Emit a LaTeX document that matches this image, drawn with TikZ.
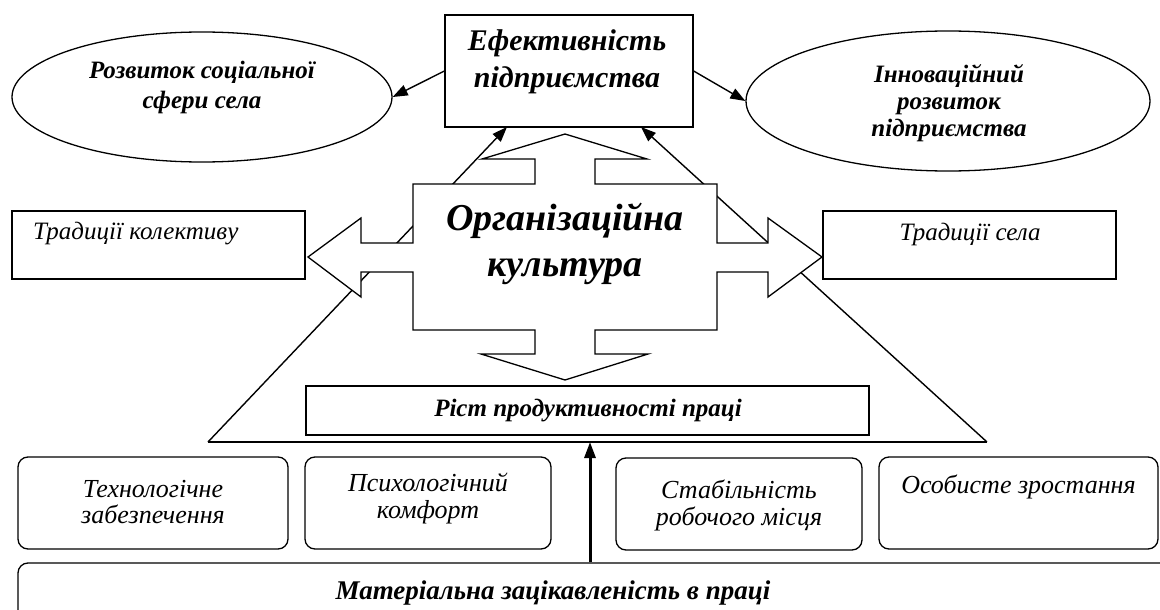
\documentclass[tikz,border=0pt]{standalone}
\usepackage{fontspec}
\setmainfont{Liberation Serif}
\usetikzlibrary{arrows.meta,shapes.geometric}
\begin{document}
\begin{tikzpicture}[x=1pt,y=-1pt,
  box/.style={draw, rectangle, line width=1.3pt, inner sep=0pt},
  rbox/.style={draw, rectangle, rounded corners=10pt, line width=1.3pt, inner sep=0pt},
  ell/.style={draw, ellipse, line width=1.3pt, inner sep=0pt},
  arr/.style={-{Triangle[length=15pt,width=11pt]}, line width=1.4pt},
  thickarr/.style={-{Triangle[length=16pt,width=11pt]}, line width=3pt},
  bi/.style 2 args={font=\fontsize{#1}{#2}\selectfont\bfseries\itshape, align=center, inner sep=0pt},
  it/.style 2 args={font=\fontsize{#1}{#2}\selectfont\itshape, align=center, inner sep=0pt}
]
\useasboundingbox (0,0) rectangle (1160,610);
\clip (0,0) rectangle (1160,610);
\fill[white] (0,0) rectangle (1160,610);

% top box and ellipses
\node[box, minimum width=248pt, minimum height=112pt] (eff) at (569,71) {};
\node[bi={30}{37}] (efft) at (567,62) {Ефективність\\підприємства};
\node[ell, minimum width=380pt, minimum height=130pt] (soc) at (202,97) {};
\node[bi={25}{30}] (soct) at (202,87) {Розвиток соціальної\\сфери села};
\node[ell, minimum width=404pt, minimum height=140pt] (inn) at (948,101) {};
\node[bi={25}{27}] (innt) at (949,103) {Інноваційний\\розвиток\\підприємства};
\draw[arr] (eff.west) -- (soc.east);
\draw[arr] (eff.east) -- (inn.west);

% side boxes
\node[box, minimum width=293pt, minimum height=68pt] (tk) at (158.5,245) {};
\node[it={25}{30}, anchor=west] (tkt) at (33,234) {Традиції колективу};
\node[box, minimum width=293pt, minimum height=68pt] (ts) at (969.5,245) {};
\node[it={25}{30}] (tst) at (970,234) {Традиції села};

% triangle
\coordinate (tl) at (208,442);
\coordinate (tr) at (987,442);
\coordinate (ta) at (507,127);
\coordinate (tb) at (641,127);
\draw[line width=1.3pt] (tl) -- (tr);
\draw[arr] (tl) -- (ta);
\draw[arr] (tr) -- (tb);

% productivity box
\node[box, minimum width=563pt, minimum height=49pt] (rist) at (587.5,410.5) {};
\node[bi={25}{30}] (ristt) at (588,411) {Ріст продуктивності праці};

% cross shape
\draw[line width=1.3pt, fill=white, line join=miter]
  (565,134) -- (647,159) -- (595,159) -- (595,184) -- (717,184) -- (717,243)
  -- (768,243) -- (768,218) -- (822,257) -- (768,297) -- (768,272) -- (717,272)
  -- (717,330) -- (595,330) -- (595,354) -- (648,354) -- (565,380) -- (481,354)
  -- (535,354) -- (535,330) -- (413,330) -- (413,272) -- (361,272) -- (361,297)
  -- (308,257) -- (361,218) -- (361,243) -- (413,243) -- (413,184) -- (535,184)
  -- (535,159) -- (482,159) -- cycle;
\node[bi={38}{46}] (org) at (565,244) {Організаційна\\культура};

% bottom boxes
\node[rbox, minimum width=270pt, minimum height=92pt] (b1) at (153,503) {};
\node[it={26}{26}] (b1t) at (153,502) {Технологічне\\забезпечення};
\node[rbox, minimum width=246pt, minimum height=92pt] (b2) at (428,503) {};
\node[it={26}{27}] (b2t) at (428,499) {Психологічний\\комфорт};
\node[rbox, minimum width=246pt, minimum height=92pt] (b3) at (739,504) {};
\node[it={26}{27}] (b3t) at (739,505) {Стабільність\\робочого місця};
\node[rbox, minimum width=279pt, minimum height=92pt] (b4) at (1018.5,503) {};
\node[it={26}{27}] (b4t) at (1018.5,487) {Особисте зростання};

% big bottom box
\node[rbox, minimum width=1162pt, minimum height=62pt] (mat) at (599,594) {};
\node[bi={27}{30}] (matt) at (553,593) {Матеріальна зацікавленість в праці};
\coordinate (base) at (590,442);
\draw[thickarr] (base |- mat.north) -- (base);
\end{tikzpicture}
\end{document}
